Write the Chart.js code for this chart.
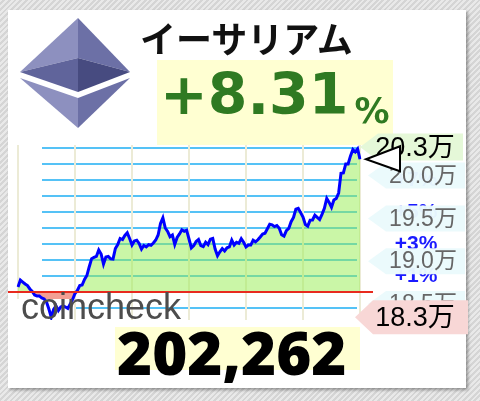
<!DOCTYPE html>
<html>
<head>
<meta charset="utf-8">
<script src="https://cdn.jsdelivr.net/npm/chart.js@4.4.0/dist/chart.umd.min.js"></script>
<style>
html, body { margin: 0; padding: 0; }
body {
    width: 480px; height: 401px; position: relative; overflow: hidden;
    background: repeating-linear-gradient(135deg, #e9e9e9 0 2px, #d5d5d5 2px 4px);
    font-family: 'Noto Sans CJK JP', sans-serif;
}
.card { position: absolute; left: 8px; top: 10px; width: 458px; height: 378px; background: #fff; box-shadow: 2px 2px 3px rgba(0,0,0,0.35); }
.logo { position: absolute; left: 0; top: 0; }
.pct-box { position: absolute; left: 157px; top: 60px; width: 236px; height: 85px; background: #ffffd2; }
#chart { position: absolute; left: 0; top: 0; }
.title { position: absolute; left: 140px; top: 19px; font-size: 36px; line-height: 36px; font-weight: 700; color: #111; white-space: nowrap; }
.pct { position: absolute; left: 160px; top: 66px; font-family: 'DejaVu Sans'; font-weight: bold; font-size: 57px; line-height: 57px; color: #2f7a22; white-space: nowrap; }
.pct span { font-size: 35px; vertical-align: -9px; margin-left: 6px; }
.price-box { position: absolute; left: 115px; top: 327px; width: 245px; height: 43px; background: #ffffd2; }
.price { position: absolute; left: 117px; top: 322px; font-family: 'Noto Sans'; font-weight: 900; font-size: 60px; line-height: 60px; color: #000; white-space: nowrap; }
.brand { position: absolute; left: 21px; top: 289px; font-family: 'Liberation Sans'; font-size: 36px; line-height: 36px; color: #4d4d4d; }
</style>
</head>
<body>
<div class="card"></div>
<svg class="logo" width="140" height="140">
    <polygon points="78,18 20,72 78,58" fill="#8d90bf"/>
    <polygon points="78,18 130,72 78,58" fill="#6c70a6"/>
    <polygon points="20,72 78,58 78,92" fill="#60649b"/>
    <polygon points="130,72 78,58 78,92" fill="#474b80"/>
    <polygon points="20,78 78,98 78,128" fill="#8d90bf"/>
    <polygon points="130,78 78,98 78,128" fill="#6c70a6"/>
</svg>
<div class="pct-box"></div>
<canvas id="chart" width="480" height="401"></canvas>
<div class="title">イーサリアム</div>
<div class="pct">+8.31<span>%</span></div>
<div class="price-box"></div>
<div class="price">202,262</div>
<div class="brand">coincheck</div>

<script>
// open price of the day (0% line)
var base = 186744;

var prices = [
    187330, 188150, 187910, 187680, 187500, 187100, 186800, 186390, 186280, 186280,
    186040, 185930, 185580, 184760, 183800, 184700, 185110, 184580, 184990, 185110,
    184990, 184820, 185340, 185870, 186570, 186920, 187500, 187560, 188210, 188670,
    189700, 190640, 190780, 190900, 191660, 191190, 190020, 190840, 190900, 190630,
    190600, 191830, 192300, 193000, 192880, 193350, 193660, 193000, 192240, 192710,
    192800, 192420, 191770, 192180, 192010, 192280, 192210, 192470, 192820, 193410,
    194750, 195410, 194230, 193820, 193210, 193410, 192300, 193120, 193530, 194020,
    193850, 193970, 192940, 191890, 192160, 192650, 192880, 192160, 192040, 192560,
    192280, 192910, 193000, 191770, 190980, 191450, 191830, 191540, 191910, 192010,
    192800, 192240, 192560, 192430, 192980, 192560, 192010, 192230, 192230, 192790,
    192610, 192850, 193180, 193530, 193610, 194130, 194660, 194600, 194390, 194510,
    194200, 193430, 193270, 193920, 194180, 194960, 195460, 196430, 196530, 196020,
    195500, 194640, 194450, 195150, 195160, 195720, 195460, 195220, 195820, 196520,
    197690, 197220, 196650, 197490, 197670, 198320, 200620, 200660, 201710, 201710,
    202650, 203410, 203110, 203470, 202262
];

var priceTicks = [185000, 190000, 195000, 200000];
var pctTicks = [-1, 1, 2, 3, 4, 5, 6, 7, 8, 9];
var pctLabels = [1, 3, 5, 7, 9];
var yMin = 183470;
var yMax = 203930;

var times = [];
for (var i = 0; i < prices.length; i++) {
    var m = i * 10;
    times.push(('0' + Math.floor(m / 60) % 24).slice(-2) + ':' + ('0' + m % 60).slice(-2));
}

function man(v) {
    return (Math.floor(v / 1000) / 10).toFixed(1) + '万';
}

function badge(ctx, tip, right, cy, h, fill) {
    ctx.fillStyle = fill;
    ctx.beginPath();
    ctx.moveTo(tip, cy);
    ctx.lineTo(tip + 18, cy - h / 2);
    ctx.lineTo(right, cy - h / 2);
    ctx.lineTo(right, cy + h / 2);
    ctx.lineTo(tip + 18, cy + h / 2);
    ctx.closePath();
    ctx.fill();
}

var backdrop = {
    id: 'backdrop',
    beforeDraw: function(chart) {
        var ctx = chart.ctx, area = chart.chartArea;
        var x = chart.scales.x, y = chart.scales.y;
        ctx.save();
        ctx.lineWidth = 2;
        ctx.strokeStyle = '#55c2f6';
        pctTicks.forEach(function(p) {
            var py = Math.round(y.getPixelForValue(base * (1 + p / 100)));
            ctx.beginPath();
            ctx.moveTo(area.left + 24, py);
            ctx.lineTo(area.right - 3, py);
            ctx.stroke();
        });
        ctx.strokeStyle = '#ecebd6';
        for (var i = 0; i < prices.length; i += 24) {
            var px = Math.round(x.getPixelForValue(i));
            ctx.beginPath();
            ctx.moveTo(px, area.top);
            ctx.lineTo(px, area.bottom);
            ctx.stroke();
        }
        ctx.restore();
    },
    beforeDatasetDraw: function(chart) {
        // white strip under the watermark, over the fill
        var ctx = chart.ctx, area = chart.chartArea;
        var top = chart.scales.y.getPixelForValue(base) + 7;
        ctx.save();
        ctx.fillStyle = '#fff';
        ctx.fillRect(area.left - 1, top, chart.scales.x.getPixelForValue(24) - area.left, area.bottom - top);
        ctx.restore();
    },
    afterDatasetsDraw: function(chart) {
        var ctx = chart.ctx, area = chart.chartArea, y = chart.scales.y;
        var max = Math.max.apply(null, prices), min = Math.min.apply(null, prices);
        var last = prices[prices.length - 1];
        ctx.save();

        var by = Math.round(y.getPixelForValue(base));
        ctx.strokeStyle = '#e82a1e';
        ctx.lineWidth = 2;
        ctx.beginPath();
        ctx.moveTo(8, by);
        ctx.lineTo(area.right + 13, by);
        ctx.stroke();

        ctx.textAlign = 'center';
        ctx.textBaseline = 'middle';
        ctx.fillStyle = '#1a1aff';
        ctx.font = 'bold 21px "Liberation Sans"';
        pctLabels.forEach(function(p) {
            ctx.fillText('+' + p + '%', 416, y.getPixelForValue(base * (1 + p / 100)));
        });

        ctx.font = '23px "Liberation Sans", "Noto Sans CJK JP"';
        priceTicks.forEach(function(v) {
            var cy = y.getPixelForValue(v) - 3;
            badge(ctx, 368, 465, cy, 26, 'rgba(234,250,252,0.97)');
            ctx.fillStyle = '#666';
            ctx.fillText(man(v), 423, cy + 1);
        });

        ctx.font = '27px "Liberation Sans", "Noto Sans CJK JP"';
        var ty = y.getPixelForValue(max) - 2;
        badge(ctx, 360, 463, ty, 27, '#e5f8d8');
        ctx.fillStyle = '#000';
        ctx.fillText(man(max), 415, ty + 2);

        var ly = y.getPixelForValue(last);
        ctx.fillStyle = '#fff';
        ctx.strokeStyle = '#000';
        ctx.lineWidth = 2;
        ctx.beginPath();
        ctx.moveTo(area.right + 6, ly);
        ctx.lineTo(area.right + 40, ly - 13);
        ctx.lineTo(area.right + 40, ly + 12);
        ctx.closePath();
        ctx.fill();
        ctx.stroke();

        var my = y.getPixelForValue(min);
        badge(ctx, 355, 468, my, 34, '#f8d7d6');
        ctx.fillStyle = '#000';
        ctx.fillText(man(min), 415, my + 1);
        ctx.restore();
    }
};

new Chart(document.getElementById('chart'), {
    type: 'line',
    data: {
        labels: times,
        datasets: [{
            data: prices,
            borderColor: '#0000ff',
            borderWidth: 3,
            pointRadius: 0,
            tension: 0,
            fill: {
                target: { value: base },
                above: 'rgba(150,238,80,0.5)',
                below: 'rgba(232,80,60,0.55)'
            }
        }]
    },
    options: {
        responsive: false,
        animation: false,
        events: [],
        layout: { padding: { left: 18, top: 145, right: 120, bottom: 81 } },
        plugins: { legend: { display: false }, tooltip: { enabled: false } },
        scales: {
            x: { display: false },
            y: { display: false, min: yMin, max: yMax }
        }
    },
    plugins: [backdrop]
});
</script>
</body>
</html>
